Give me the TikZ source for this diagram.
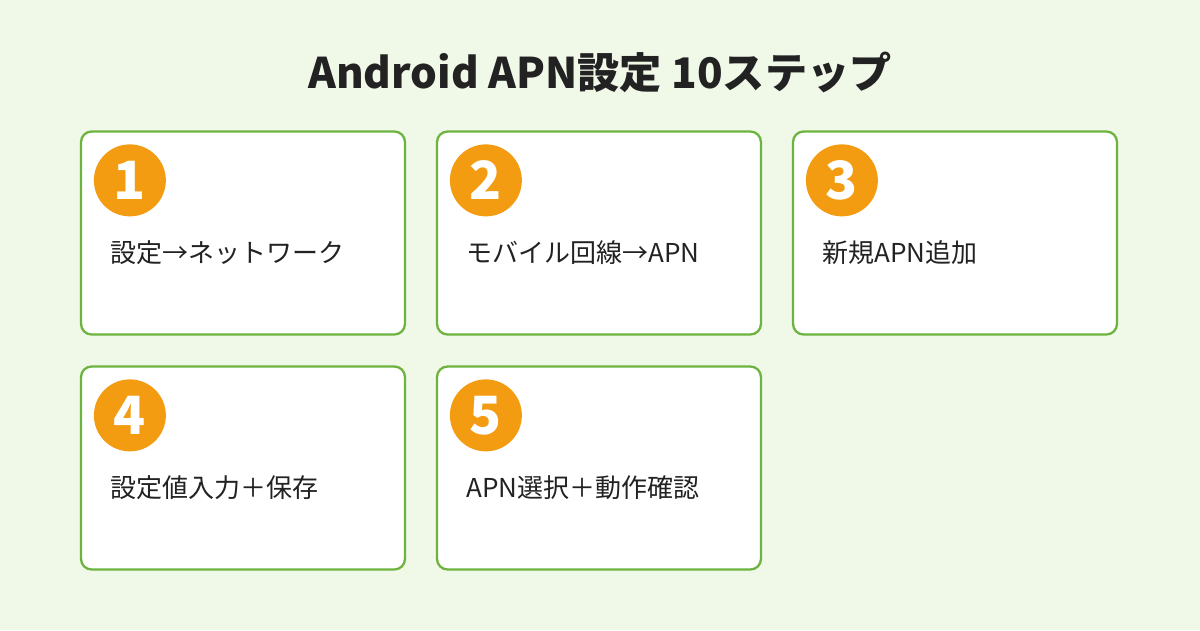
\documentclass[tikz,border=0pt]{standalone}
\usepackage{fontspec}
\setmainfont{Noto Sans CJK JP}
\usetikzlibrary{positioning}
\definecolor{bgcol}{HTML}{F0F8E8}
\definecolor{boxline}{HTML}{6DB33F}
\definecolor{badge}{HTML}{F39C12}
\definecolor{ink}{HTML}{222222}
\tikzset{
  stepbox/.style={draw=boxline, line width=1.3pt, fill=white, rounded corners=6pt,
    minimum width=6.48cm, minimum height=4.06cm, inner sep=0pt},
  numbadge/.style={circle, fill=badge, minimum size=1.44cm, inner sep=0pt,
    text=white, font=\fontsize{30}{30}\selectfont\bfseries},
  steptext/.style={anchor=west, inner sep=0pt, text=ink, font=\fontsize{14.8}{17}\selectfont}
}
\begin{document}
\begin{tikzpicture}[x=0.02cm,y=0.02cm]
  \fill[bgcol] (0,0) rectangle (1200,630);
  \useasboundingbox (0,0) rectangle (1200,630);
  \node[text=ink, font=\fontsize{24}{28}\selectfont\bfseries] (title) at (600,558) {Android APN設定 10ステップ};
  % steps: x / y / number / label
  \foreach \bx/\by/\n/\txt in {243/397/1/設定→ネットワーク, 599/397/2/モバイル回線→APN, 955/397/3/新規APN追加,
      243/162/4/設定値入力＋保存, 599/162/5/APN選択＋動作確認} {
    \node[stepbox] (box\n) at (\bx,\by) {};
    \node[numbadge] (num\n) at ([xshift=1.0cm,yshift=-1.0cm]box\n.north west) {\n};
    \node[steptext] (lbl\n) at ([xshift=0.6cm,yshift=-2.45cm]box\n.north west) {\txt};
  }
\end{tikzpicture}
\end{document}
